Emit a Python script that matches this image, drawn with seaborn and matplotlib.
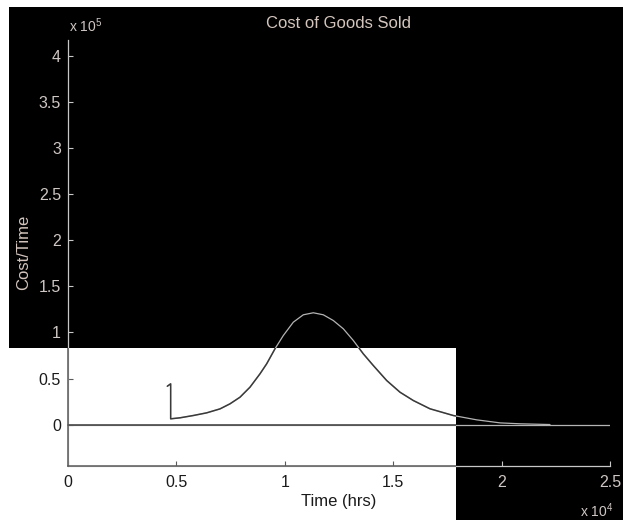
import matplotlib
matplotlib.use("Agg")
import matplotlib.pyplot as plt
import seaborn as sns
import pandas as pd
from matplotlib.patches import Rectangle
from matplotlib.ticker import FuncFormatter

# ---------------- data ----------------
time_hrs = [4580, 4735, 4735, 5166, 5780, 6397, 7011, 7472, 7934, 8395, 8856,
            9165, 9548, 9932, 10393, 10853, 11315, 11776, 12237, 12699, 13160,
            13621, 14082, 14700, 15314, 15927, 16697, 17772, 18851, 19926,
            20849, 22232]
cost_per_time = [41600, 44200, 6200, 7300, 9800, 12700, 17000, 22500, 29700,
                 40600, 55100, 66000, 82300, 96700, 111200, 119200, 121400,
                 119200, 113000, 104000, 91300, 76800, 64100, 47800, 35100,
                 26100, 17100, 9800, 5100, 1800, 800, 0]
baseline_time = [0, 25000]
baseline_cost = [0, 0]

x_ticks = [0, 5000, 10000, 15000, 20000, 25000]
y_ticks = [0, 50000, 100000, 150000, 200000, 250000, 300000, 350000, 400000]
title_text = "Cost of Goods Sold"
x_label = "Time (hrs)"
y_label = "Cost/Time"
x_exp_label = r"x 10$^{4}$"
y_exp_label = r"x 10$^{5}$"

curve_df = pd.DataFrame({"t": time_hrs, "c": cost_per_time})
base_df = pd.DataFrame({"t": baseline_time, "c": baseline_cost})

# ---------------- style ----------------
sns.set_style("ticks")
plt.rcParams["font.family"] = ["Liberation Sans", "DejaVu Sans"]
plt.rcParams["mathtext.default"] = "regular"

LIGHT_TXT = "#d4c6be"
LIGHT_TICK = "#cfc7c4"
DARK_TXT = "#1a1a1a"
LIGHT_LINE = "#b4b4b4"
DARK_LINE = "#3a3a3a"
LIGHT_AX = "#c8c8c8"
DARK_AX = "#5a5a5a"

W, H = 623, 520
fig = plt.figure(figsize=(W / 100, H / 100), dpi=100, facecolor="black")

# white regions of the picture
for (x0, y0, w, h) in [(0, 0, 9 / W, 1), (0, 1 - 7 / H, 1, 7 / H),
                       (0, 0, 456 / W, 172 / H)]:
    fig.add_artist(Rectangle((x0, y0), w, h, transform=fig.transFigure,
                             facecolor="white", edgecolor="none", zorder=-10))

white_clip = Rectangle((0, 0), 456 / W, 172 / H, transform=fig.transFigure)

rect = [68 / W, 1 - 465.5 / H, 542 / W, 425.5 / H]
ax = fig.add_axes(rect, label="light", zorder=1)
ax_dk = fig.add_axes(rect, label="dark", zorder=2)
for a in (ax, ax_dk):
    a.set_facecolor("none")
    a.set_xlim(0, 25000)
    a.set_ylim(-44500, 417700)
    a.spines["top"].set_visible(False)
    a.spines["right"].set_visible(False)

# light copies (whole picture)
sns.lineplot(data=curve_df, x="t", y="c", ax=ax, color=LIGHT_LINE, lw=0.9,
             sort=False, estimator=None)
sns.lineplot(data=base_df, x="t", y="c", ax=ax, color=LIGHT_LINE, lw=0.9,
             sort=False, estimator=None)
# dark copies, shown only over the white part of the picture
sns.lineplot(data=curve_df, x="t", y="c", ax=ax_dk, color=DARK_LINE, lw=1.1,
             sort=False, estimator=None)
sns.lineplot(data=base_df, x="t", y="c", ax=ax_dk, color=DARK_LINE, lw=1.1,
             sort=False, estimator=None)
for ln in ax_dk.lines:
    ln.set_clip_path(white_clip)

for s in ("left", "bottom"):
    ax.spines[s].set_color(LIGHT_AX)
    ax.spines[s].set_linewidth(0.9)
    ax.spines[s].set_clip_on(False)
    ax_dk.spines[s].set_color(DARK_AX)
    ax_dk.spines[s].set_linewidth(1.1)
    ax_dk.spines[s].set_clip_on(True)
    ax_dk.spines[s].set_clip_path(white_clip)

ax_dk.set_xticks([])
ax_dk.set_yticks([])
ax_dk.set_xlabel("")
ax_dk.set_ylabel("")

ax.set_xticks(x_ticks)
ax.set_yticks(y_ticks)
ax.xaxis.set_major_formatter(FuncFormatter(lambda v, p: f"{v / 1e4:g}"))
ax.yaxis.set_major_formatter(FuncFormatter(lambda v, p: f"{v / 1e5:g}"))
ax.tick_params(axis="both", direction="in", length=3.6, width=0.8,
               labelsize=11.5)
ax.tick_params(axis="x", pad=7)
ax.tick_params(axis="y", pad=5)

# colour each tick by the region it sits in
fig.canvas.draw()
for tk, v in zip(ax.xaxis.get_major_ticks(), x_ticks):
    px, py = ax.transData.transform((v, ax.get_ylim()[0]))
    dark = px < 456
    tk.tick1line.set_markeredgecolor(DARK_AX if dark else LIGHT_AX)
    tk.label1.set_color(DARK_TXT if dark else LIGHT_TICK)
for tk, v in zip(ax.yaxis.get_major_ticks(), y_ticks):
    px, py = ax.transData.transform((0, v))
    dark = py < 172
    tk.tick1line.set_markeredgecolor(DARK_AX if dark else LIGHT_AX)
    tk.label1.set_color(DARK_TXT if dark else LIGHT_TICK)

ax.set_xlabel(x_label, fontsize=12, color=DARK_TXT)
ax.xaxis.label.set_va("baseline")
ax.xaxis.set_label_coords(0.5, -(505.7 - 465) / 425)
ax.set_ylabel(y_label, fontsize=12, color=LIGHT_TXT)
ax.yaxis.set_label_coords(-(68 - 31.5) / 542, 0.5)

ax.text(0.5, 1 + (40 - 28.3) / 425, title_text, transform=ax.transAxes,
        ha="center", va="baseline", fontsize=12, color=LIGHT_TXT)
ax.text(0.001, 1 + (40 - 32) / 425, y_exp_label, transform=ax.transAxes,
        ha="left", va="baseline", fontsize=10, color=LIGHT_TICK)
ax.text(1 + 3 / 542, -(516.7 - 465) / 425, x_exp_label, transform=ax.transAxes,
        ha="right", va="baseline", fontsize=10, color=LIGHT_TICK)

fig.savefig("out.png", dpi=100, facecolor="black")
